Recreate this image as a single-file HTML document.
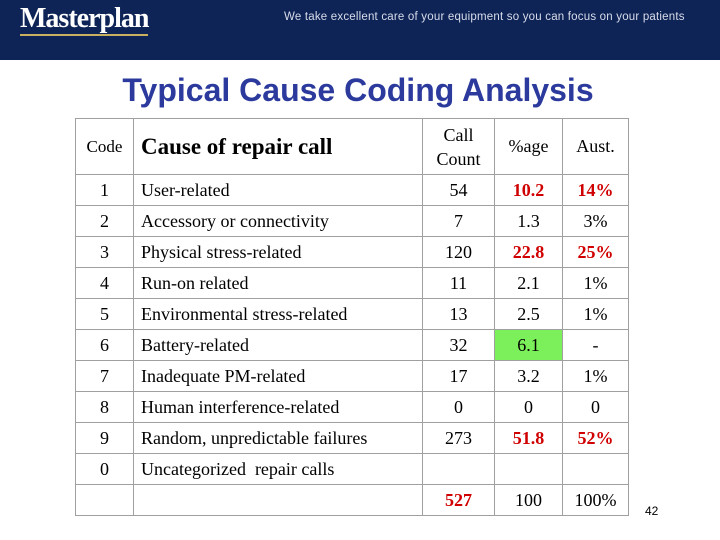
<!DOCTYPE html>
<html><head><meta charset="utf-8"><style>
body{margin:0;width:720px;height:540px;background:#fff;position:relative;overflow:hidden;font-family:"Liberation Serif",serif}
.hdr{position:absolute;left:0;top:0;width:720px;height:60px;background:#0e2457}
.logo{position:absolute;left:20px;top:3px;color:#fff;font:bold 28px "Liberation Serif",serif;letter-spacing:-1px}
.logo span{border-bottom:2px solid #c8b060}
.tag{position:absolute;left:284px;top:11px;color:#d8dcea;font:11.5px "Liberation Sans",sans-serif;letter-spacing:0.2px}
.title{position:absolute;left:0;width:716px;top:72px;text-align:center;color:#2b3a9c;font:bold 32px "Liberation Sans",sans-serif}
table{position:absolute;left:75px;top:118px;border-collapse:collapse;font-size:18px}
td{border:1px solid #a0a0a0;padding:0;height:30px;text-align:center}
td.l{text-align:left;padding-left:7px}
.r{color:#d00000;font-weight:bold}
.pg{position:absolute;left:645px;top:504px;font:12px "Liberation Sans",sans-serif}
</style></head><body>
<div class="hdr">
<div class="logo"><span>Masterplan</span></div>
<div class="tag">We take excellent care of your equipment so you can focus on your patients</div>
</div>
<div class="title">Typical Cause Coding Analysis</div>
<table>
<colgroup><col style="width:58px"><col style="width:289px"><col style="width:72px"><col style="width:68px"><col style="width:66px"></colgroup>
<tr style="height:56px"><td style="font-size:17px">Code</td><td class="l" style="font-weight:bold;font-size:23px">Cause of repair call</td><td style="line-height:24px">Call<br>Count</td><td>%age</td><td>Aust.</td></tr>
<tr><td>1</td><td class="l">User-related</td><td>54</td><td class="r">10.2</td><td class="r">14%</td></tr>
<tr><td>2</td><td class="l">Accessory or connectivity</td><td>7</td><td>1.3</td><td>3%</td></tr>
<tr><td>3</td><td class="l">Physical stress-related</td><td>120</td><td class="r">22.8</td><td class="r">25%</td></tr>
<tr><td>4</td><td class="l">Run-on related</td><td>11</td><td>2.1</td><td>1%</td></tr>
<tr><td>5</td><td class="l">Environmental stress-related</td><td>13</td><td>2.5</td><td>1%</td></tr>
<tr><td>6</td><td class="l">Battery-related</td><td>32</td><td style="background:#7cf05a">6.1</td><td>-</td></tr>
<tr><td>7</td><td class="l">Inadequate PM-related</td><td>17</td><td>3.2</td><td>1%</td></tr>
<tr><td>8</td><td class="l">Human interference-related</td><td>0</td><td>0</td><td>0</td></tr>
<tr><td>9</td><td class="l">Random, unpredictable failures</td><td>273</td><td class="r">51.8</td><td class="r">52%</td></tr>
<tr><td>0</td><td class="l">Uncategorized&nbsp; repair calls</td><td></td><td></td><td></td></tr>
<tr><td></td><td></td><td class="r">527</td><td>100</td><td>100%</td></tr>
</table>
<div class="pg">42</div>
</body></html>
